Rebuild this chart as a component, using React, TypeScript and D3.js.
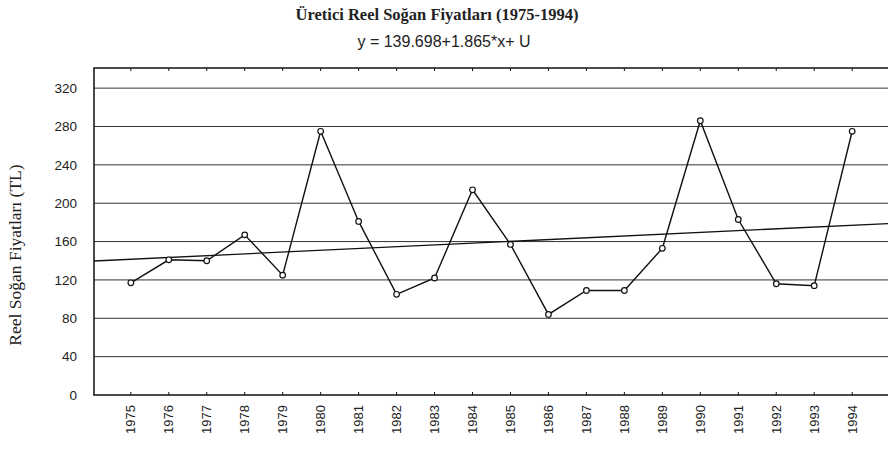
import { useEffect, useRef } from "react";
import * as d3 from "d3";

const years = [
  "1975", "1976", "1977", "1978", "1979", "1980", "1981", "1982", "1983", "1984",
  "1985", "1986", "1987", "1988", "1989", "1990", "1991", "1992", "1993", "1994",
];
const prices = [
  117, 141, 140, 167, 125, 275, 181, 105, 122, 214,
  157, 84, 109, 109, 153, 286, 183, 116, 114, 275,
];
const yTicks = [0, 40, 80, 120, 160, 200, 240, 280, 320];
// fitted line printed on the chart: y = a + b*x (x = 1 for 1975)
const trendA = 139.698;
const trendB = 1.865;

const App = () => {
  const ref = useRef<SVGSVGElement>(null);

  useEffect(() => {
    const svg = d3.select(ref.current);
    svg.selectAll("*").remove();

    const width = 888;
    const height = 450;
    const left = 94;
    const right = 889;
    const top = 68;
    const bottom = 395;

    const x = d3.scalePoint<string>().domain(years).range([left, right]).padding(0.97);
    const y = d3.scaleLinear().domain([0, 341]).range([bottom, top]);

    svg.attr("width", width).attr("height", height);
    svg.append("rect").attr("width", width).attr("height", height).attr("fill", "#fff");

    // title
    svg
      .append("text")
      .attr("x", 437)
      .attr("y", 20)
      .attr("text-anchor", "middle")
      .attr("font-family", "'Liberation Serif', serif")
      .attr("font-weight", "bold")
      .attr("font-size", 16.5)
      .attr("fill", "#222")
      .text("Üretici Reel Soğan Fiyatları (1975-1994)");

    svg
      .append("text")
      .attr("x", 444)
      .attr("y", 47)
      .attr("text-anchor", "middle")
      .attr("font-family", "'Liberation Sans', Arial, sans-serif")
      .attr("font-size", 16)
      .attr("fill", "#222")
      .text(`y = ${trendA}+${trendB}*x+ U`);

    // grid lines
    svg
      .append("g")
      .selectAll("line")
      .data(yTicks.filter((d) => d > 0))
      .enter()
      .append("line")
      .attr("x1", left)
      .attr("x2", right)
      .attr("y1", (d) => y(d))
      .attr("y2", (d) => y(d))
      .attr("stroke", "#333")
      .attr("stroke-width", 1);

    // y tick labels
    svg
      .append("g")
      .selectAll("text")
      .data(yTicks)
      .enter()
      .append("text")
      .attr("x", 77)
      .attr("y", (d) => y(d))
      .attr("dy", "0.35em")
      .attr("text-anchor", "end")
      .attr("font-family", "'Liberation Sans', Arial, sans-serif")
      .attr("font-size", 13.5)
      .attr("fill", "#222")
      .text((d) => d);

    // y axis title
    svg
      .append("text")
      .attr("transform", "translate(21,255) rotate(-90)")
      .attr("text-anchor", "middle")
      .attr("font-family", "'Liberation Serif', serif")
      .attr("font-size", 17.5)
      .attr("fill", "#222")
      .text("Reel Soğan Fiyatları (TL)");

    // frame
    svg
      .append("rect")
      .attr("x", left)
      .attr("y", top)
      .attr("width", right - left)
      .attr("height", bottom - top)
      .attr("fill", "none")
      .attr("stroke", "#111")
      .attr("stroke-width", 1.5);

    // year ticks, bottom and top
    const ticks = svg.append("g").attr("stroke", "#111").attr("stroke-width", 1);
    years.forEach((yr) => {
      const px = x(yr)!;
      ticks.append("line").attr("x1", px).attr("x2", px).attr("y1", bottom).attr("y2", bottom - 3);
      ticks.append("line").attr("x1", px).attr("x2", px).attr("y1", top).attr("y2", top + 3);
    });

    // x tick labels
    svg
      .append("g")
      .selectAll("text")
      .data(years)
      .enter()
      .append("text")
      .attr("transform", (d) => `translate(${x(d)},405) rotate(-90)`)
      .attr("dy", "0.35em")
      .attr("text-anchor", "end")
      .attr("font-family", "'Liberation Sans', Arial, sans-serif")
      .attr("font-size", 13)
      .attr("fill", "#222")
      .text((d) => d);

    // trend line across the plot
    const step = x.step();
    const idx = (px: number) => (px - x(years[0])!) / step + 1;
    svg
      .append("line")
      .attr("x1", left)
      .attr("x2", right)
      .attr("y1", y(trendA + trendB * idx(left)))
      .attr("y2", y(trendA + trendB * idx(right)))
      .attr("stroke", "#111")
      .attr("stroke-width", 1.3);

    // price series
    const line = d3
      .line<number>()
      .x((_, i) => x(years[i])!)
      .y((d) => y(d));

    svg
      .append("path")
      .datum(prices)
      .attr("d", line)
      .attr("fill", "none")
      .attr("stroke", "#111")
      .attr("stroke-width", 1.4);

    svg
      .append("g")
      .selectAll("circle")
      .data(prices)
      .enter()
      .append("circle")
      .attr("cx", (_, i) => x(years[i])!)
      .attr("cy", (d) => y(d))
      .attr("r", 2.8)
      .attr("fill", "#fff")
      .attr("stroke", "#111")
      .attr("stroke-width", 1.2);
  }, []);

  return (
    <div style={{ position: "absolute", left: 0, top: 0 }}>
      <svg ref={ref} style={{ display: "block" }}></svg>
    </div>
  );
};

export default App;
